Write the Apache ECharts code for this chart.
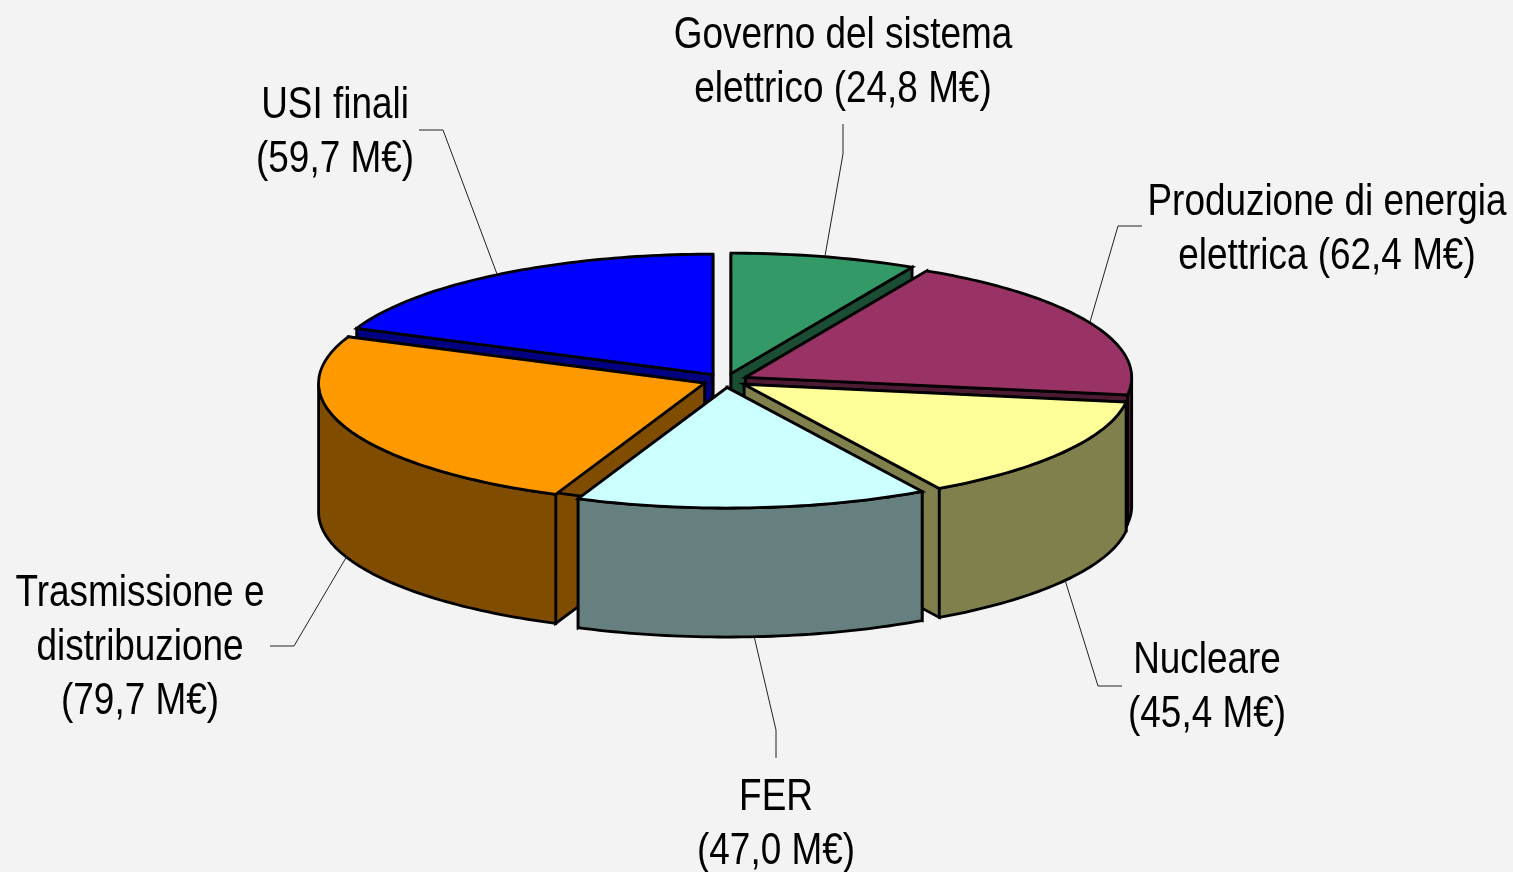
<!DOCTYPE html>
<html>
<head>
<meta charset="utf-8">
<title>Ripartizione M€</title>
<style>
    html, body { margin: 0; padding: 0; background: #f3f3f3; }
    #main { width: 1513px; height: 872px; }
</style>
<script src="https://cdn.jsdelivr.net/npm/echarts@6/dist/echarts.min.js"></script>
</head>
<body>
<div id="main"></div>
<script>
// values in M€, clockwise from 12 o'clock
const categories = ['Governo del sistema elettrico', 'Produzione di energia elettrica', 'Nucleare', 'FER', 'Trasmissione e distribuzione', 'USI finali'];
const values = [24.8, 62.4, 45.4, 47.0, 79.7, 59.7];
const labelTexts = [
    'Governo del sistema\nelettrico (24,8 M€)',
    'Produzione di energia\nelettrica (62,4 M€)',
    'Nucleare\n(45,4 M€)',
    'FER\n(47,0 M€)',
    'Trasmissione e\ndistribuzione\n(79,7 M€)',
    'USI finali\n(59,7 M€)'
];
const topColors = ['#339966', '#993366', '#ffff99', '#ccffff', '#ff9900', '#0000ff'];
const sideColors = ['#1a4d33', '#4d1a33', '#80804d', '#668080', '#804d00', '#000080'];

// layout, in pixels
const center = [725.5, 380.5];
const radiusX = 386;
const radiusY = 120.5;
const depth = 129;
const explode = 22.6;
const labelCenters = [[843, 63], [1327, 230], [1207, 688], [776, 825], [140, 648], [335, 133]];
const leaderPaths = [
    [[843, 124], [843, 154], [825, 256]],
    [[1142, 226], [1118, 226], [1090, 322]],
    [[1122, 686], [1098, 686], [1065, 580]],
    [[776, 758], [776, 730], [754, 636]],
    [[270, 646], [294, 646], [347, 556]],
    [[419, 130], [443, 130], [497, 274]]
];

var total = values.reduce(function (a, b) { return a + b; }, 0);

// start and end angle of each slice, radians clockwise from the top
var angles = [];
values.reduce(function (sum, v) {
    angles.push([sum / total * 2 * Math.PI, (sum + v) / total * 2 * Math.PI]);
    return sum + v;
}, 0);

// back slices get painted first
var paintRank = [];
angles.map(function (a, i) {
    return { i: i, back: Math.cos((a[0] + a[1]) / 2) };
}).sort(function (p, q) {
    return q.back - p.back;
}).forEach(function (p, rank) {
    paintRank[p.i] = rank;
});

function rimPoints(apex, from, to, dy) {
    var pts = [];
    var n = Math.max(2, Math.ceil((to - from) / 0.02));
    for (var k = 0; k <= n; k++) {
        var t = from + (to - from) * k / n;
        pts.push([apex[0] + radiusX * Math.sin(t), apex[1] - radiusY * Math.cos(t) + dy]);
    }
    return pts;
}

function face(points, fill, z2) {
    return {
        type: 'polygon',
        z2: z2,
        shape: { points: points },
        style: { fill: fill, stroke: '#000', lineWidth: 2.8 }
    };
}

function renderSlice(params, api) {
    var i = params.dataIndex;
    var from = angles[i][0];
    var to = angles[i][1];
    var mid = (from + to) / 2;
    var apex = [
        center[0] + explode * Math.sin(mid),
        center[1] - explode * (radiusY / radiusX) * Math.cos(mid)
    ];
    var apexLow = [apex[0], apex[1] + depth];
    var z2 = paintRank[i] * 10;
    var side = sideColors[i];
    var children = [];

    // cut faces
    [from, to].forEach(function (t) {
        var rimTop = rimPoints(apex, t, t, 0)[0];
        var rimLow = [rimTop[0], rimTop[1] + depth];
        children.push(face([apex, rimTop, rimLow, apexLow], side, z2));
    });

    // outer wall, only the part that faces the viewer
    var wallFrom = Math.max(from, Math.PI / 2);
    var wallTo = Math.min(to, Math.PI * 1.5);
    if (wallTo > wallFrom) {
        var upper = rimPoints(apex, wallFrom, wallTo, 0);
        var lower = rimPoints(apex, wallFrom, wallTo, depth).reverse();
        children.push(face(upper.concat(lower), side, z2 + 1));
    }

    // top
    children.push(face([apex].concat(rimPoints(apex, from, to, 0)), topColors[i], z2 + 2));

    // leader line and label
    children.push({
        type: 'polyline',
        z2: 100,
        shape: { points: leaderPaths[i] },
        style: { fill: null, stroke: '#222', lineWidth: 1 }
    });
    // no narrow face installed, so squeeze Liberation Sans sideways
    children.push({
        type: 'text',
        z2: 101,
        x: labelCenters[i][0],
        y: labelCenters[i][1],
        scaleX: 0.82,
        style: {
            x: 0,
            y: 0,
            text: labelTexts[i],
            fill: '#000',
            font: '45px "Liberation Sans", sans-serif',
            lineHeight: 54,
            align: 'center',
            verticalAlign: 'middle'
        }
    });

    return { type: 'group', children: children };
}

var myChart = echarts.init(document.getElementById('main'), null, { renderer: 'canvas' });
var option = {
    backgroundColor: '#f3f3f3',
    animation: false,
    series: [
        {
            type: 'custom',
            coordinateSystem: 'none',
            silent: true,
            renderItem: renderSlice,
            data: values.map(function (v, i) {
                return { name: categories[i], value: [v] };
            })
        }
    ]
};
myChart.setOption(option);
</script>
</body>
</html>
